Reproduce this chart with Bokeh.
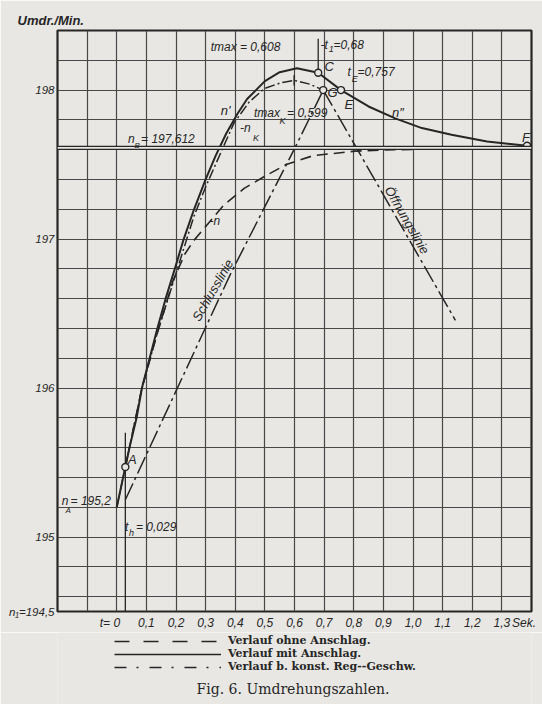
import numpy as np
from bokeh.plotting import figure
from bokeh.layouts import column
from bokeh.models import (Range1d, FixedTicker, SingleIntervalTicker, Label, Span,
                          Legend, LegendItem)
from bokeh.embed import file_html
from bokeh.resources import INLINE

# ---------------- data ----------------
x_tick_values = [0.0, 0.1, 0.2, 0.3, 0.4, 0.5, 0.6, 0.7, 0.8, 0.9, 1.0, 1.1, 1.2, 1.3]
x_tick_labels = ["0", "0,1", "0,2", "0,3", "0,4", "0,5", "0,6", "0,7", "0,8", "0,9",
                 "1,0", "1,1", "1,2", "1,3"]
x_extra_ticks = [-0.04, 1.375]         # places of "t=" and "Sek."
x_extra_labels = ["t=", "Sek."]
y_tick_values = [194.5, 195, 196, 197, 198]
y_tick_labels = ["n\u2081=194,5", "195", "196", "197", "198"]

# Verlauf mit Anschlag (solid)
t_mit = [0.0, 0.029, 0.043, 0.067, 0.085, 0.111, 0.137, 0.165, 0.196, 0.226, 0.261, 0.30,
         0.334, 0.37, 0.407, 0.44, 0.50, 0.55, 0.608, 0.68, 0.757, 0.85, 0.94, 1.03,
         1.13, 1.25, 1.385]
n_mit = [195.2, 195.47, 195.6, 195.8, 196.0, 196.2, 196.4, 196.6, 196.8, 197.0, 197.2, 197.4,
         197.56, 197.71, 197.84, 197.94, 198.06, 198.12, 198.146, 198.116, 198.0, 197.89,
         197.81, 197.745, 197.70, 197.655, 197.626]

# Verlauf b. konst. Reg.-Geschw. (n_K, dash-dot)
t_konst = [0.0, 0.029, 0.085, 0.137, 0.2, 0.26, 0.30, 0.34, 0.396, 0.447, 0.498, 0.555,
           0.599, 0.651, 0.697]
n_konst = [195.2, 195.47, 196.0, 196.37, 196.77, 197.15, 197.35, 197.53, 197.78, 197.92,
           198.01, 198.05, 198.065, 198.04, 198.0]

# Verlauf ohne Anschlag (n, dashed)
t_ohne = [0.029, 0.085, 0.137, 0.19, 0.23, 0.26, 0.311, 0.362, 0.43, 0.507, 0.572, 0.663,
          0.804, 0.90, 1.02]
n_ohne = [195.47, 196.0, 196.37, 196.72, 196.90, 196.99, 197.11, 197.23, 197.34, 197.43,
          197.50, 197.56, 197.59, 197.598, 197.603]

# Schlusslinie / Oeffnungslinie
t_schluss = [0.029, 0.186, 0.385, 0.606, 0.697]
n_schluss = [195.25, 195.92, 196.77, 197.63, 198.0]
t_oeffnung = [0.697, 0.804, 1.143]
n_oeffnung = [198.0, 197.63, 196.455]

# marked points
point_names = ["A", "C", "G", "E", "F"]
point_t = [0.029, 0.68, 0.697, 0.757, 1.385]
point_n = [195.47, 198.116, 198.0, 198.0, 197.626]

n_B = 197.612
n_A = 195.2
n_1 = 194.5
t_h = 0.029
t_1 = 0.68
t_E = 0.757
tmax = 0.608
tmax_K = 0.599

legend_labels = ["Verlauf ohne Anschlag.", "Verlauf mit Anschlag.",
                 "Verlauf b. konst. Reg--Geschw."]
caption_text = "Fig. 6.   Umdrehungszahlen."

# ---------------- style ----------------
INK = "#262626"
PAPER = "#e8e7e3"
GRID = "#474747"
SANS = "Liberation Sans"

p = figure(width=542, height=632, output_backend="svg", toolbar_location=None,
           x_range=Range1d(-0.2, 1.4), y_range=Range1d(194.5, 198.4),
           min_border_left=57, min_border_right=11, min_border_top=30, min_border_bottom=20)
p.background_fill_color = PAPER
p.border_fill_color = PAPER
p.outline_line_color = INK
p.outline_line_width = 2.2

# heading "Umdr./Min."
p.title.text = "Umdr./Min."
p.title.align = "left"
p.title.offset = -40
p.title.standoff = 5
p.title.text_font = SANS
p.title.text_font_size = "13px"
p.title.text_font_style = "bold italic"
p.title.text_color = INK

# axes
for ax in (p.xaxis[0], p.yaxis[0]):
    ax.axis_line_color = None
    ax.major_tick_line_color = None
    ax.minor_tick_line_color = None
    ax.major_tick_in = 0
    ax.major_tick_out = 0
    ax.major_label_text_font = SANS
    ax.major_label_text_font_style = "italic"
    ax.major_label_text_color = INK
p.xaxis.ticker = FixedTicker(ticks=x_tick_values + x_extra_ticks)
overrides = dict(zip(x_tick_values, x_tick_labels))
overrides.update(zip(x_extra_ticks, x_extra_labels))
p.xaxis.major_label_overrides = overrides
p.xaxis.major_label_text_font_size = "12px"
p.xaxis.major_label_standoff = 4
p.yaxis.ticker = FixedTicker(ticks=y_tick_values)
p.yaxis.major_label_overrides = dict(zip(y_tick_values, y_tick_labels))
p.yaxis.major_label_text_font_size = "11.5px"
p.yaxis.major_label_standoff = 3

p.xgrid.ticker = SingleIntervalTicker(interval=0.1)
p.ygrid.ticker = SingleIntervalTicker(interval=0.2)
for g in (p.xgrid[0], p.ygrid[0]):
    g.grid_line_color = GRID
    g.grid_line_width = 1.2

# n_B double line
p.add_layout(Span(location=n_B, dimension="width", line_color=INK, line_width=4.2))
p.add_layout(Span(location=n_B, dimension="width", line_color=PAPER, line_width=1.6))

# marker lines
p.segment(x0=[t_h], y0=[n_1], x1=[t_h], y1=[195.7], line_color=INK, line_width=1.3)
p.segment(x0=[t_1], y0=[point_n[1]], x1=[t_1], y1=[198.345], line_color=INK, line_width=1.3)
p.segment(x0=[tmax_K], y0=[198.03], x1=[tmax_K], y1=[198.10], line_color=INK, line_width=1.5)

# curves
p.line(t_schluss, n_schluss, line_color=INK, line_width=1.5, line_dash="18 4 3 4")
p.line(t_oeffnung, n_oeffnung, line_color=INK, line_width=1.5, line_dash="18 4 3 4")
p.line(t_ohne, n_ohne, line_color=INK, line_width=1.6, line_dash="11 6")
p.line(t_konst, n_konst, line_color=INK, line_width=1.5, line_dash="10 3 2 3")
p.line(t_mit, n_mit, line_color=INK, line_width=2.0, line_join="round")
p.scatter(point_t, point_n, size=7, marker="circle", fill_color=PAPER,
          line_color=INK, line_width=1.4)


def lab(fig, x, y, text, size=12, style="italic", align="left", angle=0, font=SANS):
    fig.add_layout(Label(x=x, y=y, text=text, text_font=font,
                         text_font_size=f"{size}px", text_font_style=style, text_align=align,
                         text_baseline="middle", angle=angle, angle_units="deg",
                         text_color=INK))


# texts inside the chart (data units)
lab(p, 0.317, 198.289, "tmax = 0,608")
lab(p, 0.688, 198.30, "-t")
lab(p, 0.716, 198.275, "1", 9)
lab(p, 0.732, 198.30, "=0,68")
lab(p, 0.701, 198.161, "C", 13)
lab(p, 0.779, 198.121, "t")
lab(p, 0.793, 198.074, "E", 9)
lab(p, 0.813, 198.121, "=0,757")
lab(p, 0.711, 197.987, "G", 13)
lab(p, 0.769, 197.906, "E", 13)
lab(p, 0.351, 197.866, "n'", 13)
lab(p, 0.463, 197.846, "tmax")
lab(p, 0.549, 197.792, "K", 9)
lab(p, 0.575, 197.846, "= 0,599")
lab(p, 0.416, 197.745, "-n")
lab(p, 0.46, 197.678, "K", 9)
lab(p, 0.038, 197.671, "n")
lab(p, 0.06, 197.631, "B", 8)
lab(p, 0.082, 197.671, "= 197,612")
lab(p, 0.929, 197.852, "n\u2033", 13)
lab(p, 1.368, 197.684, "F", 13)
lab(p, 0.038, 195.522, "A", 13)
lab(p, -0.186, 195.24, "n")
lab(p, -0.173, 195.18, "A", 8)
lab(p, -0.156, 195.24, "= 195,2")
lab(p, 0.028, 195.065, "t")
lab(p, 0.041, 195.025, "h", 9)
lab(p, 0.065, 195.065, "= 0,029")
lab(p, 0.313, 197.12, "-n")
lab(p, 0.324, 196.657, "Schlusslinie", 13, align="center", angle=60)
lab(p, 0.98, 197.127, "\u00d6ffnungslinie", 13, align="center", angle=-60)

# ---------------- key and caption below the chart ----------------
# the column aligns this frame with the chart frame (page x 57..531)
k = figure(width=542, height=72, output_backend="svg", toolbar_location=None,
           x_range=Range1d(57, 531), y_range=Range1d(0, 72),
           x_axis_location=None, y_axis_location=None, min_border=0)
k.background_fill_color = PAPER
k.border_fill_color = PAPER
k.outline_line_color = None
k.xgrid.visible = False
k.ygrid.visible = False

# key renderers hold no visible point; they only lend their line style to the key
leg_ohne = k.line([np.nan], [np.nan], line_color=INK, line_width=1.6, line_dash="15 14")
leg_mit = k.line([np.nan], [np.nan], line_color=INK, line_width=1.6)
leg_konst = k.line([np.nan], [np.nan], line_color=INK, line_width=1.6, line_dash="12 10 2 11")
legend = Legend(items=[LegendItem(label=legend_labels[0], renderers=[leg_ohne]),
                       LegendItem(label=legend_labels[1], renderers=[leg_mit]),
                       LegendItem(label=legend_labels[2], renderers=[leg_konst])],
                location=(57, 31), orientation="vertical", glyph_width=107, glyph_height=8,
                label_height=8, label_standoff=7, spacing=-2, padding=0, margin=0,
                border_line_color=None, background_fill_alpha=0,
                label_text_font="DejaVu Serif", label_text_font_style="bold",
                label_text_font_size="11px", label_text_color=INK)
k.add_layout(legend)
lab(k, 297, 16, caption_text, 14, "normal", "center", font="DejaVu Serif")

open("out.html", "w").write(file_html(column(p, k, spacing=0), INLINE))
